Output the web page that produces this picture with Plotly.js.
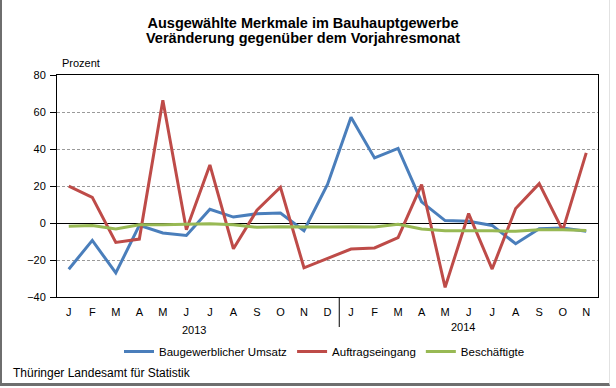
<!DOCTYPE html>
<html><head><meta charset="utf-8">
<script src="https://cdn.plot.ly/plotly-3.0.1.min.js"></script>
<style>
html,body{margin:0;padding:0;background:#fff;}
#wrap{position:relative;width:616px;height:388px;overflow:hidden;}
#chart{width:616px;height:388px;}
#frame{position:absolute;left:0;top:-2px;width:610px;height:388px;border-left:2px solid #6e6e6e;border-bottom:3px solid #6e6e6e;border-right:1px solid #e2e2e2;pointer-events:none;box-sizing:border-box;}
</style></head><body>
<div id="wrap"><div id="chart"></div><div id="frame"></div></div>
<script>
const periods = ['2013-01','2013-02','2013-03','2013-04','2013-05','2013-06','2013-07','2013-08','2013-09','2013-10','2013-11','2013-12',
                 '2014-01','2014-02','2014-03','2014-04','2014-05','2014-06','2014-07','2014-08','2014-09','2014-10','2014-11'];
const monthLabels = ['J','F','M','A','M','J','J','A','S','O','N','D','J','F','M','A','M','J','J','A','S','O','N'];
const years = ['2013','2014'];
const umsatz = [-25,-9.4,-27,-1.3,-5.4,-6.7,7.4,3.2,5.0,5.4,-4.2,20.8,57.2,35.2,40.3,11.4,1.3,0.9,-1.3,-11.2,-3.1,-2.7,-4.5];
const auftrag = [19.9,13.9,-10.5,-8.7,66.4,-3.6,31.4,-13.9,6.9,19.3,-24.2,-19,-14.1,-13.5,-7.9,20.8,-34.8,5.1,-24.9,7.8,21.3,-4,37.9];
const besch = [-1.8,-1.4,-3.2,-0.9,-0.9,-0.7,-0.4,-0.9,-2.3,-2,-2.2,-2.2,-2,-2.2,-0.7,-3.2,-4.2,-4,-4.2,-4.5,-3.6,-3.6,-4];
const seriesNames = ['Baugewerblicher Umsatz','Auftragseingang','Beschäftigte'];
const titleLines = ['Ausgewählte Merkmale im Bauhauptgewerbe','Veränderung gegenüber dem Vorjahresmonat'];

const F = 'Arial, "Liberation Sans", sans-serif';
const colors = ['#4A7EBB','#BE4B48','#98B954'];
const data = [umsatz, auftrag, besch].map((v,i)=>({
  type:'scatter', mode:'lines', x:periods, y:v, name:seriesNames[i],
  line:{color:colors[i], width:3}
}));

const L=57, R=598, T=75, B=297;
const pw=R-L, ph=B-T;
const layout = {
  width:616, height:388,
  margin:{l:L, r:616-R, t:T, b:388-B},
  paper_bgcolor:'#fff', plot_bgcolor:'#fff',
  font:{family:F, size:11, color:'#000'},
  title:{text:'<b>'+titleLines[0]+'</b>',
    font:{family:F, size:14.5, color:'#000'}, x:303/616, xanchor:'center', xref:'container', y:1-23/388, yanchor:'middle', yref:'container'},
  showlegend:true,
  legend:{orientation:'h', x:(119-L)/pw, xanchor:'left', y:-(337-B)/ph, yanchor:'top',
    font:{family:F, size:11.5, color:'#000'}, tracegroupgap:0, bgcolor:'rgba(0,0,0,0)'},
  xaxis:{type:'category', categoryorder:'array', categoryarray:periods,
    tickvals:periods, ticktext:monthLabels, tickfont:{family:F,size:11,color:'#000'},
    showgrid:false, showline:true, mirror:true, linecolor:'#000', linewidth:1, ticks:'', ticklen:0,
    ticklabelstandoff:5,
    range:[-0.5, periods.length-0.5], fixedrange:true, zeroline:false},
  yaxis:{range:[-40,80], tickvals:[-40,-20,0,20,40,60,80], tickfont:{family:F,size:11,color:'#000'},
    showgrid:true, gridcolor:'#9a9a9a', gridwidth:1, griddash:'3px,2px',
    zeroline:true, zerolinecolor:'#000', zerolinewidth:1,
    showline:true, mirror:true, linecolor:'#000', linewidth:1,
    ticks:'outside', ticklen:6, tickcolor:'#000', ticklabelstandoff:2, fixedrange:true},
  shapes:[
    {type:'line', xref:'x', yref:'paper', x0:11.5, x1:11.5, y0:0, y1:-(327-B)/ph, line:{color:'#000', width:1}}
  ],
  annotations:[
    {text:'<b>'+titleLines[1]+'</b>', xref:'paper', yref:'paper', x:(303-L)/pw, y:1+(T-38)/ph, xanchor:'center', yanchor:'middle', showarrow:false, font:{family:F,size:14.5,color:'#000'}},
    {text:'Prozent', xref:'paper', yref:'paper', x:(60-L)/pw, y:(T-63)/ph+1, xanchor:'left', yanchor:'middle', showarrow:false, font:{family:F,size:11,color:'#000'}},
    {text:years[0], xref:'x', yref:'paper', x:5.32, y:-(330-B)/ph, xanchor:'center', yanchor:'middle', showarrow:false, font:{family:F,size:11,color:'#000'}},
    {text:years[1], xref:'x', yref:'paper', x:16.76, y:-(327-B)/ph, xanchor:'center', yanchor:'middle', showarrow:false, font:{family:F,size:11,color:'#000'}},
    {text:'Thüringer Landesamt für Statistik', xref:'paper', yref:'paper', x:(11-L)/pw, y:-(373-B)/ph, xanchor:'left', yanchor:'middle', showarrow:false, font:{family:F,size:12,color:'#000'}}
  ]
};
Plotly.newPlot('chart', data, layout, {displayModeBar:false, staticPlot:true});
</script>
</body></html>
